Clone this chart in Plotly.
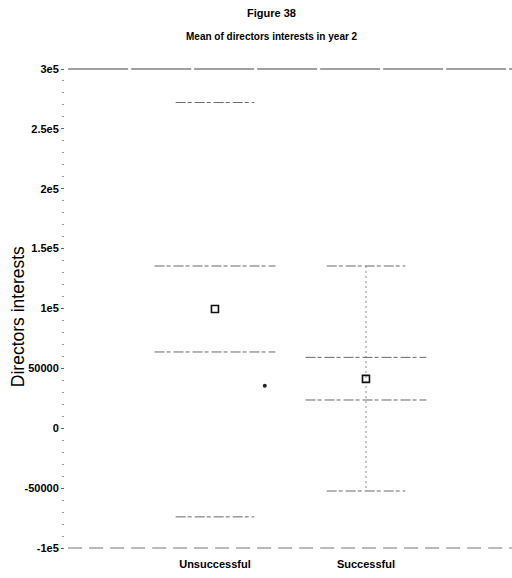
import plotly.graph_objects as go

# Group means with inner (standard error) and outer (spread) limits
groups = ["Unsuccessful", "Successful"]
means = [99600, 41200]
inner_upper = [135500, 59200]
inner_lower = [63700, 23600]
outer_upper = [272000, 135500]
outer_lower = [-74000, -52400]

# Single observation plotted beside the Unsuccessful group
point_offset = [0.33]
point_value = [35500]

y_tickvals = [300000, 250000, 200000, 150000, 100000, 50000, 0, -50000, -100000]
y_ticktext = ["3e5", "2.5e5", "2e5", "1.5e5", "1e5", "50000", "0", "-50000", "-1e5"]

# styling
show_stem = [False, True]
inner_half = 0.40
outer_half = 0.26
sans = "Liberation Sans, Arial, sans-serif"
cap_color = "#6a6a6a"

xs = list(range(len(groups)))


def caps(values, half):
    cx, cy = [], []
    for x, v in zip(xs, values):
        cx += [x - half, x + half, None]
        cy += [v, v, None]
    return cx, cy


fig = go.Figure()

# vertical stems between the outer limits
sx, sy = [], []
for x, lo, hi, show in zip(xs, outer_lower, outer_upper, show_stem):
    if show:
        sx += [x, x, None]
        sy += [hi, lo, None]
fig.add_trace(go.Scatter(x=sx, y=sy, mode="lines",
                         line=dict(color="#8a8a8a", width=1, dash="2px,3px"),
                         hoverinfo="skip", showlegend=False))

for vals, half in [(outer_upper, outer_half), (outer_lower, outer_half),
                   (inner_upper, inner_half), (inner_lower, inner_half)]:
    cx, cy = caps(vals, half)
    fig.add_trace(go.Scatter(x=cx, y=cy, mode="lines",
                             line=dict(color=cap_color, width=1, dash="10px,2px,4px,3px"),
                             hoverinfo="skip", showlegend=False))

# means
fig.add_trace(go.Scatter(x=xs, y=means, mode="markers",
                         marker=dict(symbol="square-open", size=7, color="#111",
                                     line=dict(width=1.6, color="#111")),
                         showlegend=False))

# individual observation
fig.add_trace(go.Scatter(x=[xs[0] + d for d in point_offset], y=point_value, mode="markers",
                         marker=dict(symbol="circle", size=4, color="#222"),
                         showlegend=False))

# frame lines at the top and bottom of the plotting area
fig.add_shape(type="line", xref="paper", yref="paper", x0=0.007, x1=1, y0=1, y1=1,
              line=dict(color="#444", width=1.2, dash="60px,3px"))
fig.add_shape(type="line", xref="paper", yref="paper", x0=0.007, x1=1, y0=0, y1=0,
              line=dict(color="#777", width=1, dash="14px,7px"))

fig.add_annotation(text="Figure 38", xref="paper", yref="paper", x=0.463, y=1.117,
                   xanchor="center", yanchor="middle", showarrow=False,
                   font=dict(family=sans, size=11, color="#000", weight="bold"))
fig.add_annotation(text="Mean of directors interests in year 2", xref="paper", yref="paper",
                   x=0.463, y=1.067, xanchor="center", yanchor="middle", showarrow=False,
                   font=dict(family=sans, size=10, color="#000", weight="bold"))
fig.add_annotation(text="Directors interests", xref="paper", yref="paper",
                   x=-0.105, y=0.482, xanchor="center", yanchor="middle",
                   textangle=-90, showarrow=False,
                   font=dict(family=sans, size=17.5, color="#000"))

fig.update_layout(
    width=512, height=578,
    margin=dict(l=65, r=0, t=69, b=30),
    paper_bgcolor="white", plot_bgcolor="white",
    showlegend=False,
    xaxis=dict(range=[-0.993, 1.967], tickvals=xs, ticktext=groups,
               showgrid=False, zeroline=False, showline=False,
               ticks="outside", ticklen=6, tickcolor="rgba(0,0,0,0)",
               tickfont=dict(family=sans, size=11, color="#000", weight="bold")),
    yaxis=dict(range=[-100000, 300000], tickvals=y_tickvals, ticktext=y_ticktext,
               showgrid=False, zeroline=False, showline=False,
               ticks="outside", ticklen=3, tickcolor="#666", tickwidth=1,
               minor=dict(dtick=10000, ticks="outside", ticklen=2, tickcolor="#999"),
               tickfont=dict(family=sans, size=11, color="#000", weight="bold")),
)

fig.write_html("out.html")
